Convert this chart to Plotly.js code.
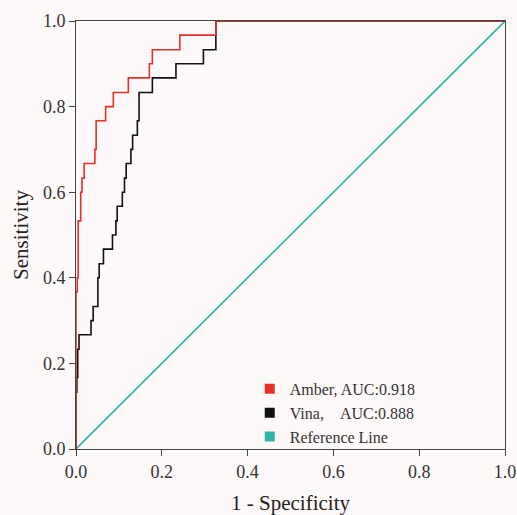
<!DOCTYPE html>
<html>
<head>
<meta charset="utf-8">
<script src="https://cdn.plot.ly/plotly-3.0.1.min.js"></script>
<style>html,body{margin:0;padding:0;background:#fdf9f8;}</style>
</head>
<body>
<div id="chart" style="width:517px;height:515px;"></div>
<script>
// Amber ROC (step vertices: fpr, tpr after vertical rise)
const amberFpr = [0, 0, 0.003, 0.005, 0.011, 0.014, 0.019, 0.044, 0.047, 0.069, 0.087, 0.122, 0.171, 0.178, 0.242, 0.326, 1];
const amberTpr = [0, 0.367, 0.4, 0.533, 0.6, 0.633, 0.667, 0.7, 0.767, 0.8, 0.833, 0.867, 0.9, 0.933, 0.967, 1, 1];
// Vina ROC
const vinaFpr = [0, 0, 0.002, 0.004, 0.007, 0.035, 0.04, 0.051, 0.054, 0.064, 0.085, 0.093, 0.096, 0.108, 0.113, 0.117, 0.128, 0.132, 0.143, 0.147, 0.178, 0.233, 0.297, 0.326, 1];
const vinaTpr = [0, 0.133, 0.167, 0.233, 0.267, 0.3, 0.333, 0.4, 0.433, 0.467, 0.5, 0.533, 0.567, 0.6, 0.633, 0.667, 0.7, 0.733, 0.767, 0.833, 0.867, 0.9, 0.933, 1, 1];
// Reference line
const refX = [0, 1];
const refY = [0, 1];
const legendNames = ["Amber, AUC:0.918", "Vina,\u00a0\u00a0\u00a0\u00a0AUC:0.888", "Reference Line"];
const tickVals = [0, 0.2, 0.4, 0.6, 0.8, 1.0];
const tickText = ["0.0", "0.2", "0.4", "0.6", "0.8", "1.0"];

const colors = ["#e5302b", "#111111", "#2bb5a6"];

const traces = [
  {x: refX, y: refY, mode: "lines", line: {color: colors[2], width: 1.6}, showlegend: false, hoverinfo: "skip"},
  {x: vinaFpr, y: vinaTpr, mode: "lines", line: {color: colors[1], width: 1.6, shape: "hv"}, showlegend: false},
  {x: amberFpr, y: amberTpr, mode: "lines", line: {color: colors[0], width: 1.6, shape: "hv"}, showlegend: false},
];
legendNames.forEach((n, i) => {
  traces.push({x: [null], y: [null], mode: "markers", name: n,
    marker: {symbol: "square", size: 10, color: colors[i]}, showlegend: true});
});

const axisCommon = {
  range: [0, 1], tickvals: tickVals, ticktext: tickText,
  ticks: "outside", ticklen: 6, tickwidth: 1, tickcolor: "#444",
  showline: true, linecolor: "#444", linewidth: 1, mirror: true,
  showgrid: false, zeroline: false,
  tickfont: {family: "Liberation Serif, serif", size: 18, color: "#333"},
  fixedrange: true
};

const layout = {
  width: 517, height: 515,
  margin: {l: 76, r: 12, t: 21, b: 66},
  paper_bgcolor: "#fdf9f8", plot_bgcolor: "#fdf9f8",
  font: {family: "Liberation Serif, serif", color: "#333"},
  xaxis: Object.assign({}, axisCommon, {
    title: {text: "1 - Specificity", font: {family: "Liberation Serif, serif", size: 21, color: "#222"}, standoff: 14}
  }),
  yaxis: Object.assign({}, axisCommon, {
    title: {text: "Sensitivity", font: {family: "Liberation Serif, serif", size: 21, color: "#222"}, standoff: 8}
  }),
  legend: {
    x: 0.405, y: 0.18, xanchor: "left", yanchor: "top",
    bgcolor: "rgba(0,0,0,0)", borderwidth: 0,
    font: {family: "Liberation Serif, serif", size: 16, color: "#333"},
    tracegroupgap: 0, itemsizing: "trace"
  },
  showlegend: true
};

Plotly.newPlot("chart", traces, layout, {displayModeBar: false, staticPlot: true});
</script>
</body>
</html>
